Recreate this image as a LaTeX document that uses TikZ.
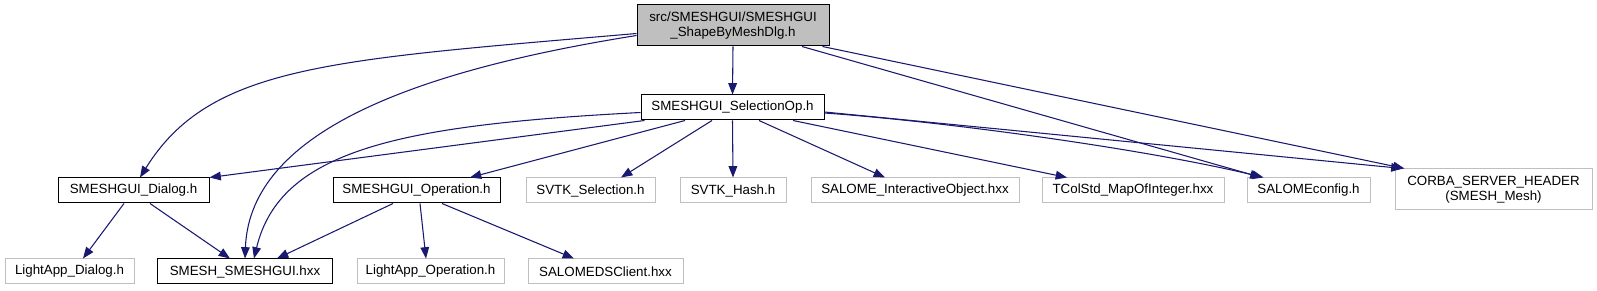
\documentclass[tikz,border=0pt]{standalone}
\usepackage{fontspec}
\setmainfont{Liberation Sans}
\usetikzlibrary{arrows.meta,calc}
\definecolor{edgeblue}{HTML}{191970}
\definecolor{lgray}{HTML}{BFBFBF}
\begin{document}
\begin{tikzpicture}[x=0.75pt,y=-0.75pt,
  box/.style={draw, line width=0.75pt, inner sep=0pt, font=\fontsize{10}{11.5}\selectfont, align=center, minimum height=18.75pt},
  blk/.style={box, draw=black},
  gry/.style={box, draw=lgray},
  edge/.style={draw=edgeblue, line width=0.8pt, -{Triangle[length=8.5pt,width=6.5pt]}}
]
\useasboundingbox (0,0) rectangle (1597,291);
% nodes
\node[blk, fill=lgray, minimum width=144pt, minimum height=30.75pt] (top) at (733,25.5) {src/SMESHGUI/SMESHGUI\\\_ShapeByMeshDlg.h};
\node[blk, minimum width=137.25pt] (selop) at (732.5,107.5) {SMESHGUI\_SelectionOp.h};
\node[blk, minimum width=113.25pt] (dlg) at (133.5,190.5) {SMESHGUI\_Dialog.h};
\node[blk, minimum width=125.25pt] (op) at (416.5,190.5) {SMESHGUI\_Operation.h};
\node[gry, minimum width=96.75pt] (svs) at (590.5,190.5) {SVTK\_Selection.h};
\node[gry, minimum width=79.5pt] (svh) at (733,190.5) {SVTK\_Hash.h};
\node[gry, minimum width=156pt] (sio) at (915,190.5) {SALOME\_InteractiveObject.hxx};
\node[gry, minimum width=136.5pt] (tcs) at (1133,190.5) {TColStd\_MapOfInteger.hxx};
\node[gry, minimum width=92.25pt] (scf) at (1308.5,190.5) {SALOMEconfig.h};
\node[gry, minimum width=147.75pt, minimum height=30.75pt] (corba) at (1493.5,189.5) {CORBA\_SERVER\_HEADER\\(SMESH\_Mesh)};
\node[gry, minimum width=96.75pt] (lad) at (69.5,271.5) {LightApp\_Dialog.h};
\node[blk, minimum width=131.25pt] (smesh) at (245,271.5) {SMESH\_SMESHGUI.hxx};
\node[gry, minimum width=110.25pt] (lao) at (430.5,271.5) {LightApp\_Operation.h};
\node[gry, minimum width=116.25pt] (sdc) at (605.5,271.5) {SALOMEDSClient.hxx};
% edges from top
\draw[edge] ($(top.west)+(0,8)$) .. controls (330,60) and (210,65) .. ($(dlg.north)+(6.5,0)$);
\draw[edge] ($(top.west)+(0,10)$) .. controls (420,70) and (250,130) .. (smesh.north);
\draw[edge] (top.south) -- (selop.north);
\draw[edge] ($(top.south)+(69,0)$) -- ($(scf.north)+(-47,0)$);
\draw[edge] ($(top.south east)+(-7,0)$) -- ($(corba.north west)+(10,0)$);
% edges from selop
\draw[edge] ($(selop.south west)+(4,0)$) -- (dlg.north east);
\draw[edge] ($(selop.west)+(0,5)$) .. controls (400,125) and (280,150) .. ($(smesh.north)+(9,0)$);
\draw[edge] ($(selop.south)+(-47.5,0)$) -- ($(op.north)+(53.5,0)$);
\draw[edge] ($(selop.south)+(-20.5,0)$) -- ($(svs.north)+(30.5,0)$);
\draw[edge] (selop.south) -- (svh.north);
\draw[edge] ($(selop.south)+(26.5,0)$) -- ($(sio.north)+(-30,0)$);
\draw[edge] ($(selop.south)+(60.5,0)$) -- ($(tcs.north)+(-66,0)$);
\draw[edge] ($(selop.east)+(0,5.5)$) .. controls (950,122) and (1150,150) .. ($(scf.north)+(-45,0)$);
\draw[edge] ($(selop.east)+(0,4.5)$) -- ($(corba.north west)+(8,0)$);
% edges from dialog
\draw[edge] ($(dlg.south)+(-9.5,0)$) -- ($(lad.north)+(13.5,0)$);
\draw[edge] ($(dlg.south)+(16.5,0)$) -- ($(smesh.north)+(-15,0)$);
% edges from operation
\draw[edge] ($(op.south)+(-23.5,0)$) -- ($(smesh.north)+(32,0)$);
\draw[edge] ($(op.south)+(3.5,0)$) -- ($(lao.north)+(-4.5,0)$);
\draw[edge] ($(op.south)+(25.5,0)$) -- ($(sdc.north)+(-31.5,0)$);
\end{tikzpicture}
\end{document}
